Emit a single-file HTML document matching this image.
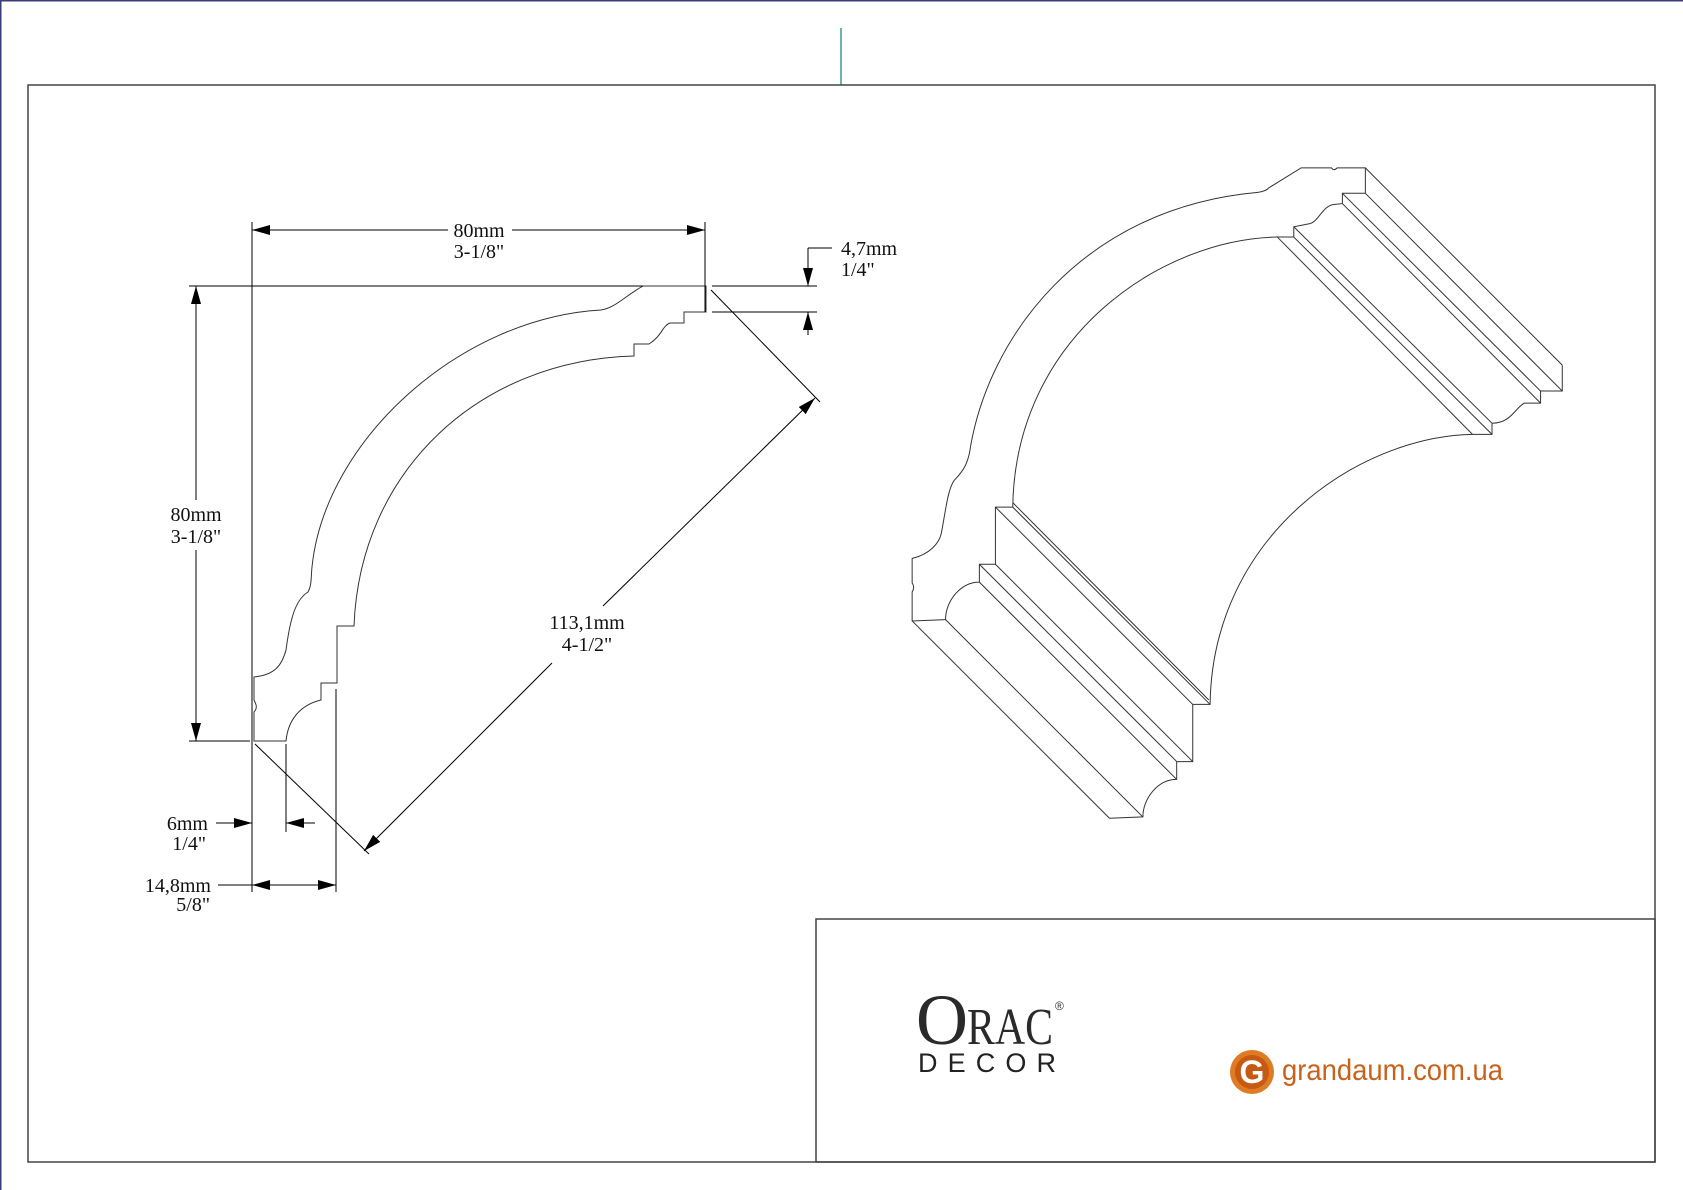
<!DOCTYPE html>
<html><head><meta charset="utf-8"><style>
html,body{margin:0;padding:0;background:#fff;}
svg{display:block;}
text{font-family:"Liberation Serif",serif;font-size:20px;fill:#111;}
</style></head><body>
<svg width="1683" height="1190" viewBox="0 0 1683 1190" xmlns="http://www.w3.org/2000/svg">
<defs>
<marker id="a" viewBox="0 0 18 10" refX="18" refY="5" markerWidth="18" markerHeight="10" markerUnits="userSpaceOnUse" orient="auto"><path d="M0,0 L18,5 L0,10 Z" fill="#000"/></marker>
</defs>
<rect x="0" y="0" width="1683" height="1190" fill="#fff"/>
<line x1="0.5" y1="0" x2="0.5" y2="1190" stroke="#3c3c78" stroke-width="2"/>
<line x1="0" y1="0.5" x2="1683" y2="0.5" stroke="#3c3c78" stroke-width="2"/>
<line x1="841" y1="28" x2="841" y2="85" stroke="#3a9a9a" stroke-width="1.5"/>
<rect x="28" y="85" width="1627" height="1077" fill="none" stroke="#444" stroke-width="1.5"/>
<rect x="816" y="919" width="839" height="243" fill="none" stroke="#444" stroke-width="1.5"/>

<g stroke="#000" stroke-width="1" fill="none">
<path d="M643,286 L706,286 L706,312 L684,312 L684,323 L670,323 C662,326 662,336 649,344 L634,344 L634,356 C480,360 360,470 354,626 L337,626 L337,683 L321,683 L321,700 C300,705 288,720 286,741 L254,741 L254,712 C258,708 256,704 254,700 L254,677 C275,675 282,665 286,650 C290,620 295,600 308,592 C312,585 311,575 312,567 C325,440 460,318 601,310 C615,308 625,296 643,286 Z" stroke="#333"/>
<line x1="252" y1="222" x2="252" y2="892"/>
<line x1="705" y1="222" x2="705" y2="312"/>
<line x1="189" y1="286" x2="643" y2="286"/>
<line x1="189" y1="741" x2="250" y2="741"/>
<line x1="712" y1="286" x2="817" y2="286"/>
<line x1="712" y1="312" x2="817" y2="312"/>
<line x1="711" y1="290" x2="820" y2="402"/>
<line x1="255" y1="744" x2="369" y2="854"/>
<line x1="286" y1="744" x2="286" y2="832"/>
<line x1="336" y1="689" x2="336" y2="892"/>
<line x1="448" y1="230" x2="252" y2="230" marker-end="url(#a)"/>
<line x1="512" y1="230" x2="705" y2="230" marker-end="url(#a)"/>
<line x1="196" y1="500" x2="196" y2="286" marker-end="url(#a)"/>
<line x1="196" y1="550" x2="196" y2="741" marker-end="url(#a)"/>
<line x1="832" y1="248" x2="808" y2="248"/>
<line x1="808" y1="248" x2="808" y2="286" marker-end="url(#a)"/>
<line x1="808" y1="335" x2="808" y2="312" marker-end="url(#a)"/>
<line x1="603" y1="606" x2="815" y2="398" marker-end="url(#a)"/>
<line x1="552" y1="663" x2="364" y2="851" marker-end="url(#a)"/>
<line x1="216" y1="823" x2="252" y2="823" marker-end="url(#a)"/>
<line x1="315" y1="823" x2="286" y2="823" marker-end="url(#a)"/>
<line x1="218" y1="885" x2="252" y2="885"/>
<line x1="294" y1="885" x2="252" y2="885" marker-end="url(#a)"/>
<line x1="294" y1="885" x2="336" y2="885" marker-end="url(#a)"/>
</g>
<text x="479" y="237" text-anchor="middle">80mm</text>
<text x="479" y="258" text-anchor="middle">3-1/8"</text>
<text x="196" y="521" text-anchor="middle">80mm</text>
<text x="196" y="543" text-anchor="middle">3-1/8"</text>
<text x="841" y="255">4,7mm</text>
<text x="841" y="276">1/4"</text>
<text x="587" y="629" text-anchor="middle">113,1mm</text>
<text x="587" y="651" text-anchor="middle">4-1/2"</text>
<text x="208" y="830" text-anchor="end">6mm</text>
<text x="206" y="850" text-anchor="end">1/4"</text>
<text x="211" y="892" text-anchor="end">14,8mm</text>
<text x="210" y="911" text-anchor="end">5/8"</text>

<g transform="translate(900,150) scale(0.4337,0.4464)" fill="none" stroke="#333" stroke-width="1">
<path vector-effect="non-scaling-stroke" d="M925,40 L995,40 Q1000,48 1008,40 L1073,40 L1073,97 L1020,97 L1020,120 L1000,122 C975,125 965,160 945,165 L908,172 L908,195 L870,195 C600,200 265,420 260,800 L220,800 L220,928 L183,928 L183,968 C140,968 105,1010 105,1052 L28,1055 L28,990 Q35,980 28,970 L28,915 C70,905 90,880 95,860 C105,810 110,760 125,740 C150,715 155,700 160,680 C200,420 420,130 825,95 Q845,92 850,85 Z"/>
<path vector-effect="non-scaling-stroke" d="M1527,482 L1527,540 L1477,540 L1477,567 L1440,567 C1420,575 1410,612 1365,612 L1365,637 L1320,637 C1055,642 720,865 715,1242 L675,1242 L675,1370 L638,1370 L638,1410 C595,1410 560,1452 560,1494 L483,1497"/>
<line vector-effect="non-scaling-stroke" x1="1073" y1="40" x2="1527" y2="482"/>
<line vector-effect="non-scaling-stroke" x1="1073" y1="97" x2="1527" y2="540"/>
<line vector-effect="non-scaling-stroke" x1="1020" y1="97" x2="1477" y2="540"/>
<line vector-effect="non-scaling-stroke" x1="1020" y1="120" x2="1477" y2="567"/>
<line vector-effect="non-scaling-stroke" x1="908" y1="172" x2="1365" y2="612"/>
<line vector-effect="non-scaling-stroke" x1="908" y1="195" x2="1365" y2="637"/>
<line vector-effect="non-scaling-stroke" x1="870" y1="195" x2="1320" y2="637"/>
<line vector-effect="non-scaling-stroke" x1="220" y1="800" x2="675" y2="1242"/>
<line vector-effect="non-scaling-stroke" x1="260" y1="800" x2="715" y2="1242"/>
<line vector-effect="non-scaling-stroke" x1="260" y1="790" x2="712" y2="1232"/>
<line vector-effect="non-scaling-stroke" x1="220" y1="928" x2="675" y2="1370"/>
<line vector-effect="non-scaling-stroke" x1="183" y1="928" x2="638" y2="1370"/>
<line vector-effect="non-scaling-stroke" x1="183" y1="968" x2="638" y2="1410"/>
<line vector-effect="non-scaling-stroke" x1="105" y1="1052" x2="560" y2="1494"/>
<line vector-effect="non-scaling-stroke" x1="28" y1="1055" x2="483" y2="1497"/>
</g>

<text x="916" y="1044" style="font-family:'Liberation Serif',serif;font-size:72px;fill:#2a2a2a">O</text>
<text x="967" y="1044" style="font-family:'Liberation Serif',serif;font-size:52px;fill:#2a2a2a" textLength="86" lengthAdjust="spacingAndGlyphs">RAC</text>
<text x="1055" y="1010" style="font-family:'Liberation Sans',sans-serif;font-size:12px;fill:#333">®</text>
<text x="918" y="1072" style="font-family:'Liberation Sans',sans-serif;font-size:27px;fill:#222" textLength="138" lengthAdjust="spacing">DECOR</text>
<circle cx="1252" cy="1072" r="22" fill="#e07b25"/>
<circle cx="1252" cy="1072" r="17" fill="#c65a12"/>
<text x="1252" y="1083" text-anchor="middle" style="font-family:'Liberation Sans',sans-serif;font-size:32px;font-weight:bold;fill:#fff">G</text>
<text x="1282" y="1080" style="font-family:'Liberation Sans',sans-serif;font-size:30px;fill:#c8621a" textLength="221" lengthAdjust="spacingAndGlyphs">grandaum.com.ua</text>
</svg>
</body></html>
